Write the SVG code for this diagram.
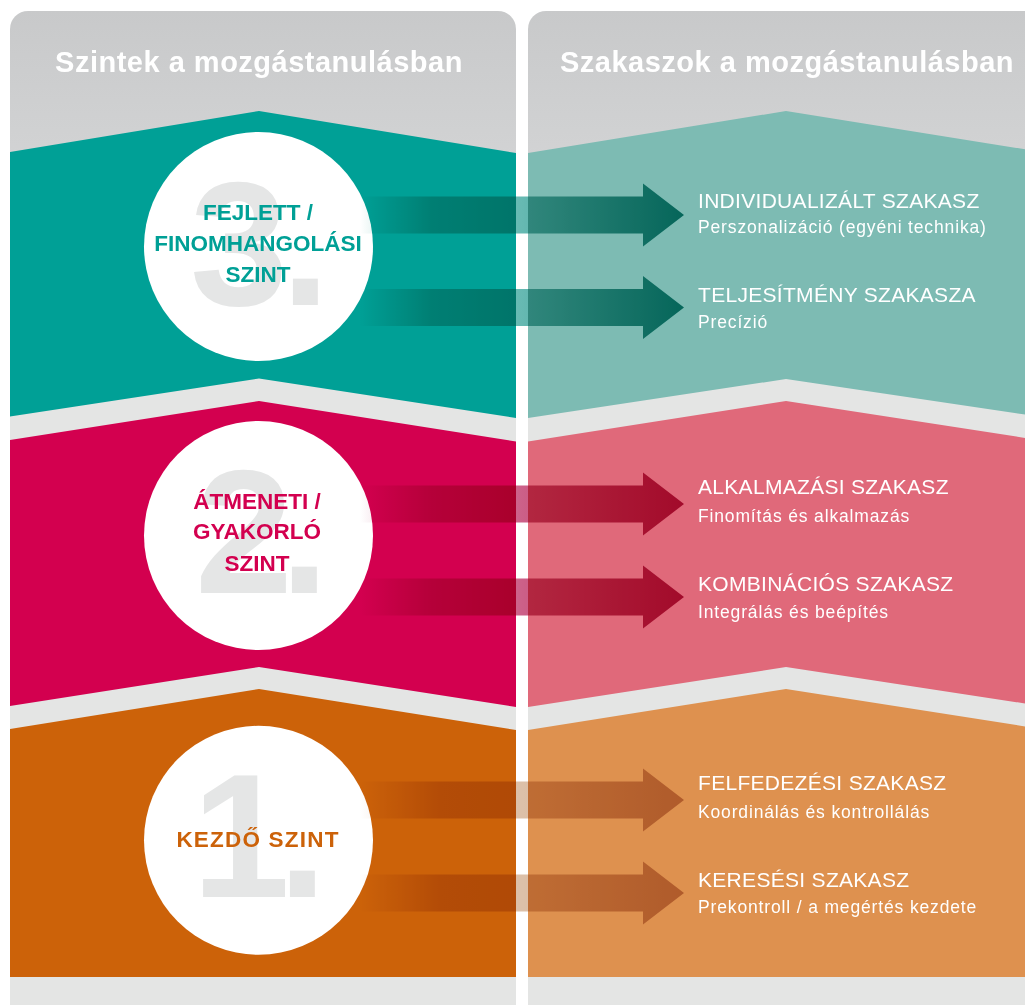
<svg xmlns="http://www.w3.org/2000/svg" width="1025" height="1005" viewBox="0 0 1025 1005">
<defs>
<style>
.title{font-family:"Liberation Sans",Arial,sans-serif;font-weight:bold;font-size:29px;fill:#ffffff;text-anchor:middle;letter-spacing:0.5px}
.num{font-family:"Liberation Sans",Arial,sans-serif;font-weight:bold;font-size:176px;fill:#e5e6e6}
.lvl{font-family:"Liberation Sans",Arial,sans-serif;font-weight:bold;font-size:22.5px;text-anchor:middle}
.st{font-family:"Liberation Sans",Arial,sans-serif;font-size:21px;fill:#ffffff;letter-spacing:0.3px}
.sub{font-family:"Liberation Sans",Arial,sans-serif;font-size:17.5px;fill:#ffffff;letter-spacing:0.85px}
.arrow{mix-blend-mode:multiply}
</style>
<linearGradient id="panelBg" gradientUnits="userSpaceOnUse" x1="0" y1="11" x2="0" y2="1005">
<stop offset="0" stop-color="#c8c9ca"/>
<stop offset="0.15" stop-color="#d2d3d4"/>
<stop offset="0.2" stop-color="#e4e5e4"/>
<stop offset="1" stop-color="#e4e5e4"/>
</linearGradient>
<linearGradient id="gTeal" gradientUnits="userSpaceOnUse" x1="360" y1="0" x2="684" y2="0">
<stop offset="0" stop-color="#ffffff"/>
<stop offset="0.22" stop-color="#8ccac4"/>
<stop offset="0.5" stop-color="#66b9b2"/>
<stop offset="1" stop-color="#0a8b80"/>
</linearGradient>
<linearGradient id="gMag" gradientUnits="userSpaceOnUse" x1="360" y1="0" x2="684" y2="0">
<stop offset="0" stop-color="#ffffff"/>
<stop offset="0.22" stop-color="#dba0b8"/>
<stop offset="0.5" stop-color="#cc6088"/>
<stop offset="1" stop-color="#b91858"/>
</linearGradient>
<linearGradient id="gOr" gradientUnits="userSpaceOnUse" x1="360" y1="0" x2="684" y2="0">
<stop offset="0" stop-color="#ffffff"/>
<stop offset="0.25" stop-color="#e0c4ac"/>
<stop offset="0.5" stop-color="#dcc0a8"/>
<stop offset="1" stop-color="#caa08a"/>
</linearGradient>
</defs>

<rect width="1025" height="1005" fill="#ffffff"/>

<g id="panel-left">
<rect x="10" y="11" width="506" height="1030" rx="18" fill="url(#panelBg)"/>
<text class="title" x="259" y="72">Szintek a mozgástanulásban</text>
</g>
<g id="panel-right">
<rect x="528" y="11" width="520" height="1030" rx="18" fill="url(#panelBg)"/>
<text class="title" x="787" y="72">Szakaszok a mozgástanulásban</text>
</g>

<g id="band-3">
<polygon points="10,152 259,111 516,153 516,418 259,378.5 10,416.5" fill="#00a096"/>
<polygon points="528,153 786,111 1048,153 1048,418 786,379 528,418" fill="#7dbbb3"/>
</g>
<g id="band-2">
<polygon points="10,440 259,401 516,441.5 516,707 259,667 10,706" fill="#d3004f"/>
<polygon points="528,441.5 786,401 1048,441.5 1048,707 786,667 528,707" fill="#e0697a"/>
</g>
<g id="band-1">
<polygon points="10,729 259,689 516,730 516,977 10,977" fill="#cc6209"/>
<polygon points="528,730 786,689 1048,730 1048,977 528,977" fill="#de914f"/>
</g>

<g id="level-3">
<circle cx="258.5" cy="246.5" r="114.5" fill="#ffffff"/>
<text class="num"><tspan x="190" y="305">3</tspan><tspan x="281" y="305">.</tspan></text>
<text class="lvl" x="258" y="220" fill="#00a096">FEJLETT /</text>
<text class="lvl" x="258" y="251" fill="#00a096">FINOMHANGOLÁSI</text>
<text class="lvl" x="258" y="282" fill="#00a096">SZINT</text>
</g>
<g id="level-2">
<circle cx="258.5" cy="535.5" r="114.5" fill="#ffffff"/>
<text class="num"><tspan x="195" y="592.7">2</tspan><tspan x="280" y="592.7">.</tspan></text>
<text class="lvl" x="257" y="508.5" fill="#d3004f">ÁTMENETI /</text>
<text class="lvl" x="257" y="539" fill="#d3004f">GYAKORLÓ</text>
<text class="lvl" x="257" y="570.5" fill="#d3004f">SZINT</text>
</g>
<g id="level-1">
<circle cx="258.5" cy="840.3" r="114.5" fill="#ffffff"/>
<text class="num"><tspan x="192" y="896.7">1</tspan><tspan x="278" y="896.7">.</tspan></text>
<text class="lvl" x="258" y="846.7" fill="#cc6209" style="letter-spacing:1.2px">KEZDŐ SZINT</text>
</g>

<g id="connectors">
<path class="arrow" fill="url(#gTeal)" d="M360,196.5 H643 V183.5 L684,215 L643,246.5 V233.5 H360 Z"/>
<path class="arrow" fill="url(#gTeal)" d="M360,289 H643 V276 L684,307.5 L643,339 V326 H360 Z"/>
<path class="arrow" fill="url(#gMag)" d="M360,485.5 H643 V472.5 L684,504 L643,535.5 V522.5 H360 Z"/>
<path class="arrow" fill="url(#gMag)" d="M360,578.5 H643 V565.5 L684,597 L643,628.5 V615.5 H360 Z"/>
<path class="arrow" fill="url(#gOr)" d="M360,781.5 H643 V768.5 L684,800 L643,831.5 V818.5 H360 Z"/>
<path class="arrow" fill="url(#gOr)" d="M360,874.5 H643 V861.5 L684,893 L643,924.5 V911.5 H360 Z"/>
</g>

<g id="stage-individualizalt">
<text class="st" x="698" y="208">INDIVIDUALIZÁLT SZAKASZ</text>
<text class="sub" x="698" y="233">Perszonalizáció (egyéni technika)</text>
</g>
<g id="stage-teljesitmeny">
<text class="st" x="698" y="302">TELJESÍTMÉNY SZAKASZA</text>
<text class="sub" x="698" y="328">Precízió</text>
</g>
<g id="stage-alkalmazasi">
<text class="st" x="698" y="494">ALKALMAZÁSI SZAKASZ</text>
<text class="sub" x="698" y="521.7">Finomítás és alkalmazás</text>
</g>
<g id="stage-kombinacios">
<text class="st" x="698" y="590.7">KOMBINÁCIÓS SZAKASZ</text>
<text class="sub" x="698" y="618.3">Integrálás és beépítés</text>
</g>
<g id="stage-felfedezesi">
<text class="st" x="698" y="790">FELFEDEZÉSI SZAKASZ</text>
<text class="sub" x="698" y="817.7">Koordinálás és kontrollálás</text>
</g>
<g id="stage-keresesi">
<text class="st" x="698" y="886.7">KERESÉSI SZAKASZ</text>
<text class="sub" x="698" y="913.3">Prekontroll / a megértés kezdete</text>
</g>
</svg>
